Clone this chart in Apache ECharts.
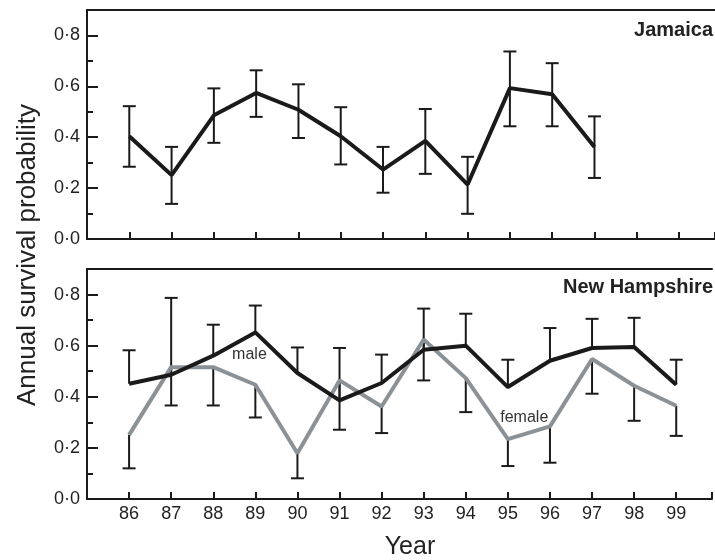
<!DOCTYPE html>
<html>
<head>
<meta charset="utf-8">
<script src="https://cdn.jsdelivr.net/npm/echarts@6/dist/echarts.min.js"></script>
<style>
  html, body { margin: 0; padding: 0; background: #fff; }
  #chart { width: 715px; height: 560px; }
</style>
</head>
<body>
<div id="chart"></div>
<script>
// Jamaica (estimate with lower / upper limits)
var jamYears = [86, 87, 88, 89, 90, 91, 92, 93, 94, 95, 96, 97];
var jamSurv  = [0.404, 0.251, 0.486, 0.574, 0.508, 0.404, 0.273, 0.386, 0.214, 0.593, 0.569, 0.362];
var jamLow   = [0.284, 0.138, 0.378, 0.480, 0.397, 0.293, 0.182, 0.256, 0.099, 0.443, 0.443, 0.240];
var jamHigh  = [0.522, 0.362, 0.592, 0.663, 0.608, 0.518, 0.362, 0.511, 0.323, 0.737, 0.691, 0.482];

// New Hampshire: males drawn with upper limits, females with lower limits
var nhYears     = [86, 87, 88, 89, 90, 91, 92, 93, 94, 95, 96, 97, 98, 99];
var nhMale      = [0.451, 0.486, 0.561, 0.652, 0.493, 0.386, 0.454, 0.584, 0.600, 0.438, 0.541, 0.591, 0.595, 0.447];
var nhMaleHigh  = [0.582, 0.787, 0.682, 0.757, 0.593, 0.591, 0.565, 0.745, 0.725, 0.545, 0.669, 0.705, 0.709, 0.545];
var nhFemale    = [0.251, 0.516, 0.516, 0.447, 0.179, 0.464, 0.362, 0.624, 0.473, 0.234, 0.284, 0.548, 0.443, 0.365];
var nhFemaleLow = [0.120, 0.366, 0.366, 0.319, 0.081, 0.271, 0.258, 0.464, 0.340, 0.129, 0.142, 0.412, 0.306, 0.247];

var yTickValues = [0, 0.2, 0.4, 0.6, 0.8];
var yTickLabels = ['0·0', '0·2', '0·4', '0·6', '0·8'];

var FONT = '"Liberation Sans", Arial, sans-serif';
var INK = '#1a1a1a';
var GREY = '#8b9297';
var X_MIN = 85, X_MAX = 99.85; // panel is cut at the right edge of the figure

function zip(xs, a, b) {
  return xs.map(function (x, i) { return b ? [x, a[i], b[i]] : [x, a[i]]; });
}

function yLabel(v) {
  for (var i = 0; i < yTickValues.length; i++) {
    if (Math.abs(v - yTickValues[i]) < 1e-6) return yTickLabels[i];
  }
  return '';
}

// bar from value(1) to value(2); cap at value(2), and at value(1) too when capBoth
function makeErrorBar(capBoth) {
  return function (params, api) {
    var x = api.value(0);
    var a = api.coord([x, api.value(1)]);
    var b = api.coord([x, api.value(2)]);
    var w = 6.5;
    var st = { stroke: INK, lineWidth: 2 };
    var kids = [
      { type: 'line', shape: { x1: a[0], y1: a[1], x2: b[0], y2: b[1] }, style: st },
      { type: 'line', shape: { x1: b[0] - w, y1: b[1], x2: b[0] + w, y2: b[1] }, style: st }
    ];
    if (capBoth) {
      kids.push({ type: 'line', shape: { x1: a[0] - w, y1: a[1], x2: a[0] + w, y2: a[1] }, style: st });
    }
    return { type: 'group', children: kids };
  };
}

function xAxisFor(i, labels) {
  return {
    type: 'value', gridIndex: i, min: X_MIN, max: X_MAX, interval: 1, position: 'bottom',
    axisLine: { onZero: false, lineStyle: { color: INK, width: 2 } },
    axisTick: { inside: true, length: 7, lineStyle: { color: INK, width: 2 } },
    axisLabel: {
      show: labels, fontSize: 18, fontFamily: FONT, color: '#222', margin: 6,
      formatter: function (v) { return (v >= 86 && v <= 99 && v === Math.round(v)) ? String(v) : ''; }
    },
    splitLine: { show: false }
  };
}

// top frame line of each panel
function xTopFor(i) {
  return {
    type: 'value', gridIndex: i, min: X_MIN, max: X_MAX, position: 'top',
    axisLine: { show: true, onZero: false, lineStyle: { color: INK, width: 2 } },
    axisTick: { show: false }, axisLabel: { show: false }, splitLine: { show: false }
  };
}

function yMajor(i) {
  return {
    type: 'value', gridIndex: i, min: 0, max: 0.9, interval: 0.2, position: 'left',
    axisLine: { show: true, onZero: false, lineStyle: { color: INK, width: 2 } },
    axisTick: { show: true, inside: true, length: 11, lineStyle: { color: INK, width: 2 } },
    axisLabel: { fontSize: 18, fontFamily: FONT, color: '#222', margin: 7, formatter: yLabel },
    splitLine: { show: false }
  };
}

function yMinor(i) {
  return {
    type: 'value', gridIndex: i, min: 0, max: 0.9, interval: 0.1, position: 'left',
    axisLine: { show: false, onZero: false },
    axisTick: { show: true, inside: true, length: 6, lineStyle: { color: INK, width: 2 } },
    axisLabel: { show: false },
    splitLine: { show: false }
  };
}

var chart = echarts.init(document.getElementById('chart'));

var option = {
  animation: false,
  backgroundColor: '#fff',
  grid: [
    { left: 87, right: 0, top: 10, height: 229 },
    { left: 87, right: 0, top: 269, height: 230 }
  ],
  xAxis: [xAxisFor(0, false), xAxisFor(1, true), xTopFor(0), xTopFor(1)],
  yAxis: [yMajor(0), yMajor(1), yMinor(0), yMinor(1)],
  series: [
    {
      type: 'custom', xAxisIndex: 0, yAxisIndex: 0, renderItem: makeErrorBar(true),
      encode: { x: 0, y: [1, 2] }, data: zip(jamYears, jamLow, jamHigh), z: 1
    },
    {
      type: 'line', xAxisIndex: 0, yAxisIndex: 0, data: zip(jamYears, jamSurv),
      symbol: 'none', lineStyle: { color: INK, width: 4 }, z: 3
    },
    {
      type: 'custom', xAxisIndex: 1, yAxisIndex: 1, renderItem: makeErrorBar(false),
      encode: { x: 0, y: [1, 2] }, data: zip(nhYears, nhMale, nhMaleHigh), z: 1
    },
    {
      type: 'custom', xAxisIndex: 1, yAxisIndex: 1, renderItem: makeErrorBar(false),
      encode: { x: 0, y: [1, 2] }, data: zip(nhYears, nhFemale, nhFemaleLow), z: 1
    },
    {
      name: 'female', type: 'line', xAxisIndex: 1, yAxisIndex: 1, data: zip(nhYears, nhFemale),
      symbol: 'none', lineStyle: { color: GREY, width: 4 }, z: 2
    },
    {
      name: 'male', type: 'line', xAxisIndex: 1, yAxisIndex: 1, data: zip(nhYears, nhMale),
      symbol: 'none', lineStyle: { color: INK, width: 4 }, z: 3
    }
  ]
};

chart.setOption(option);

// annotations placed in data coordinates of the lower panel
var malePos = chart.convertToPixel({ gridIndex: 1 }, [88.86, 0.565]);
var femalePos = chart.convertToPixel({ gridIndex: 1 }, [95.39, 0.318]);

chart.setOption({
  graphic: [
    {
      type: 'text', x: 28, y: 255, rotation: Math.PI / 2,
      style: { text: 'Annual survival probability', font: '26px ' + FONT, fill: '#222', align: 'center', verticalAlign: 'middle' }
    },
    {
      type: 'text', x: 410, y: 547,
      style: { text: 'Year', font: '25px ' + FONT, fill: '#222', align: 'center', verticalAlign: 'middle' }
    },
    {
      type: 'text', x: 713, y: 30,
      style: { text: 'Jamaica', font: 'bold 20px ' + FONT, fill: '#222', align: 'right', verticalAlign: 'middle' }
    },
    {
      type: 'text', x: 713, y: 287,
      style: { text: 'New Hampshire', font: 'bold 20px ' + FONT, fill: '#222', align: 'right', verticalAlign: 'middle' }
    },
    {
      type: 'text', x: malePos[0], y: malePos[1], z: 10,
      style: { text: 'male', font: '16px ' + FONT, fill: '#333', align: 'center', verticalAlign: 'middle' }
    },
    {
      type: 'text', x: femalePos[0], y: femalePos[1], z: 10,
      style: { text: 'female', font: '16px ' + FONT, fill: '#333', align: 'center', verticalAlign: 'middle' }
    }
  ]
});
</script>
</body>
</html>
